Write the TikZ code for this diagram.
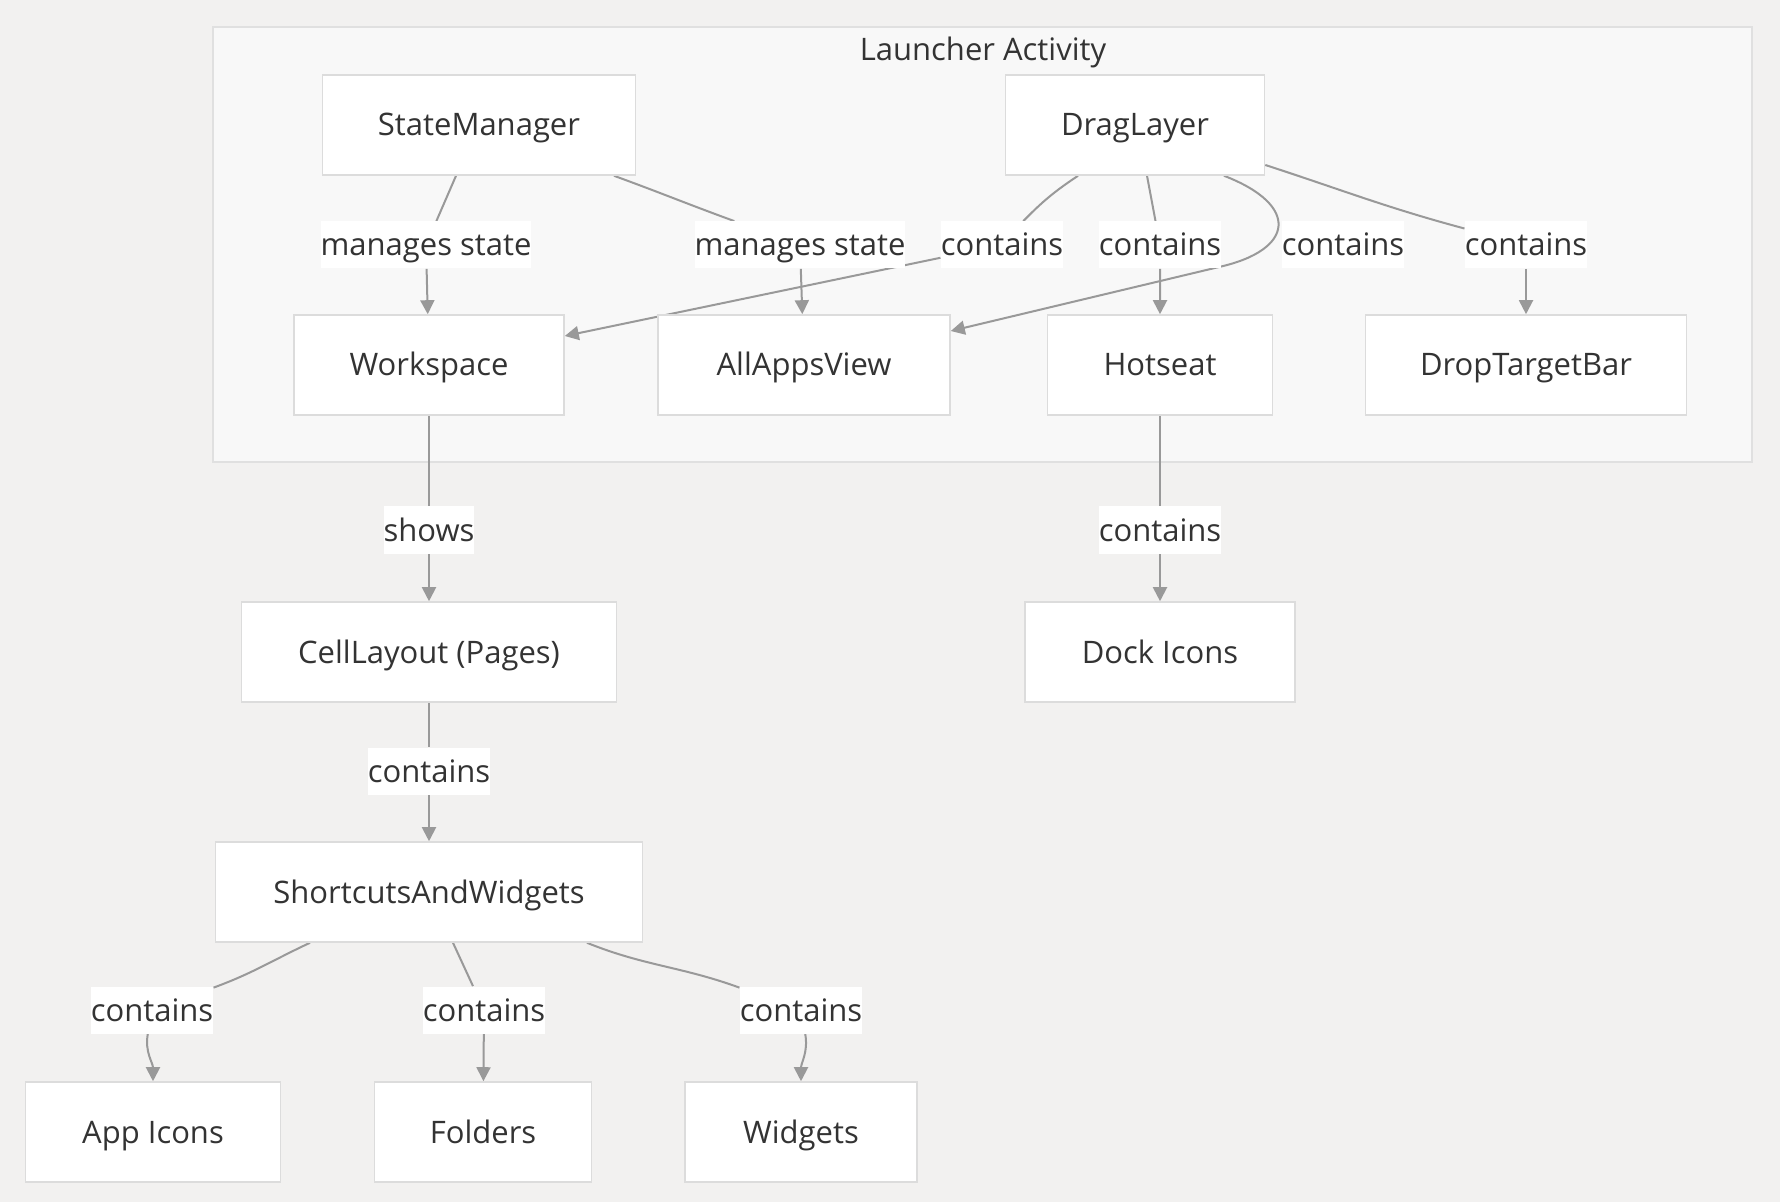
\documentclass[tikz,border=0pt]{standalone}
\usepackage{fontspec}
\setmainfont{Open Sans}
\usepackage{tikz}
\usetikzlibrary{arrows.meta,calc,positioning}
\definecolor{bggray}{RGB}{242,241,240}
\definecolor{clusterfill}{RGB}{248,248,248}
\definecolor{clusterline}{RGB}{224,224,224}
\definecolor{boxline}{RGB}{220,220,220}
\definecolor{edgegray}{RGB}{153,153,153}
\definecolor{txtgray}{RGB}{51,51,51}
\pgfdeclarelayer{bglayer}
\pgfdeclarelayer{edgelayer}
\pgfsetlayers{bglayer,edgelayer,main}
\begin{document}
\begin{tikzpicture}[x=0.5pt,y=0.5pt,
    every node/.style={text=txtgray,font=\fontsize{15.5}{18}\selectfont,
                       text height=14pt,text depth=3pt},
    box/.style={draw=boxline,fill=white,line width=0.8pt,minimum height=50pt,inner sep=0pt},
    lbl/.style={fill=white,inner xsep=0pt,inner ysep=0pt,minimum height=23.5pt},
    wire/.style={draw=edgegray,line width=1pt},
    flow/.style={wire,-{Triangle[length=7pt,width=7pt]}}]
%
  \begin{pgfonlayer}{bglayer}
    \fill[bggray] (0,0) rectangle (1780,-1202);
    \draw[draw=clusterline,fill=clusterfill,line width=0.8pt] (213,-27) rectangle (1752,-462);
  \end{pgfonlayer}
  \useasboundingbox (0,0) rectangle (1780,-1202);
  \node (title) at (983,-50) {Launcher Activity};
%
  \node[box,minimum width=156.5pt] (sm) at (479,-125)  {StateManager};
  \node[box,minimum width=129.5pt] (dl) at (1135,-125) {DragLayer};
  \node[box,minimum width=135pt]   (ws) at (429,-365)  {Workspace};
  \node[box,minimum width=146pt]   (av) at (804,-365)  {AllAppsView};
  \node[box,minimum width=112.5pt] (hs) at (1160,-365) {Hotseat};
  \node[box,minimum width=160.5pt] (dt) at (1526,-365) {DropTargetBar};
  \node[box,minimum width=187.5pt] (cl) at (429,-652)  {CellLayout (Pages)};
  \node[box,minimum width=135pt]   (dk) at (1160,-652) {Dock Icons};
  \node[box,minimum width=213.5pt] (sw) at (429,-892)  {ShortcutsAndWidgets};
  \node[box,minimum width=127.5pt] (ai) at (153,-1132) {App Icons};
  \node[box,minimum width=108.5pt] (fo) at (483,-1132) {Folders};
  \node[box,minimum width=116pt]   (wi) at (801,-1132) {Widgets};
%
  \node[lbl] (l1)  at (426,-245)  {manages state};
  \node[lbl] (l2)  at (800,-245)  {manages state};
  \node[lbl] (l3)  at (1002,-245) {contains};
  \node[lbl] (l4)  at (1160,-245) {contains};
  \node[lbl] (l5)  at (1343,-245) {contains};
  \node[lbl] (l6)  at (1526,-245) {contains};
  \node[lbl] (l7)  at (429,-530)  {shows};
  \node[lbl] (l8)  at (1160,-530) {contains};
  \node[lbl] (l9)  at (429,-771)  {contains};
  \node[lbl] (l10) at (152,-1010) {contains};
  \node[lbl] (l11) at (484,-1010) {contains};
  \node[lbl] (l12) at (801,-1010) {contains};
%
  \begin{pgfonlayer}{edgelayer}
  \draw[flow] ($(sm.south)+(-23,0)$) -- (l1) -- (ws);
  \draw[wire] ($(sm.south)+(135,0)$) to[out=-20,in=160] (l2);
  \draw[flow] (l2) -- (av);
  \draw[wire] ($(dl.south)+(-57,0)$) to[bend right=6] (l3);
  \draw[flow] (l3) -- ($(ws.east)+(0,29)$);
  \draw[flow] ($(dl.south)+(12,0)$) -- (l4) -- (hs);
  \draw[flow] ($(dl.south)+(89,0)$) .. controls (1300,-205) and (1295,-250) .. (1219,-267)
              -- ($(av.east)+(0,34)$);
  \draw[wire] ($(dl.east)+(0,-40)$) to[out=-18,in=165] (l6);
  \draw[flow] (l6) -- (dt);
  \draw[flow] (ws) -- (l7) -- (cl);
  \draw[flow] (hs) -- (l8) -- (dk);
  \draw[flow] (cl) -- (l9) -- (sw);
  \draw[wire] ($(sw.south)+(-119,0)$) to[out=-155,in=20] (l10);
  \draw[flow] (l10) to[out=-100,in=90] (ai);
  \draw[flow] ($(sw.south)+(24,0)$) -- (l11) -- (fo);
  \draw[wire] ($(sw.south)+(158,0)$) to[out=-22,in=160] (l12);
  \draw[flow] (l12) to[out=-80,in=90] (wi);
  \end{pgfonlayer}
\end{tikzpicture}
\end{document}
